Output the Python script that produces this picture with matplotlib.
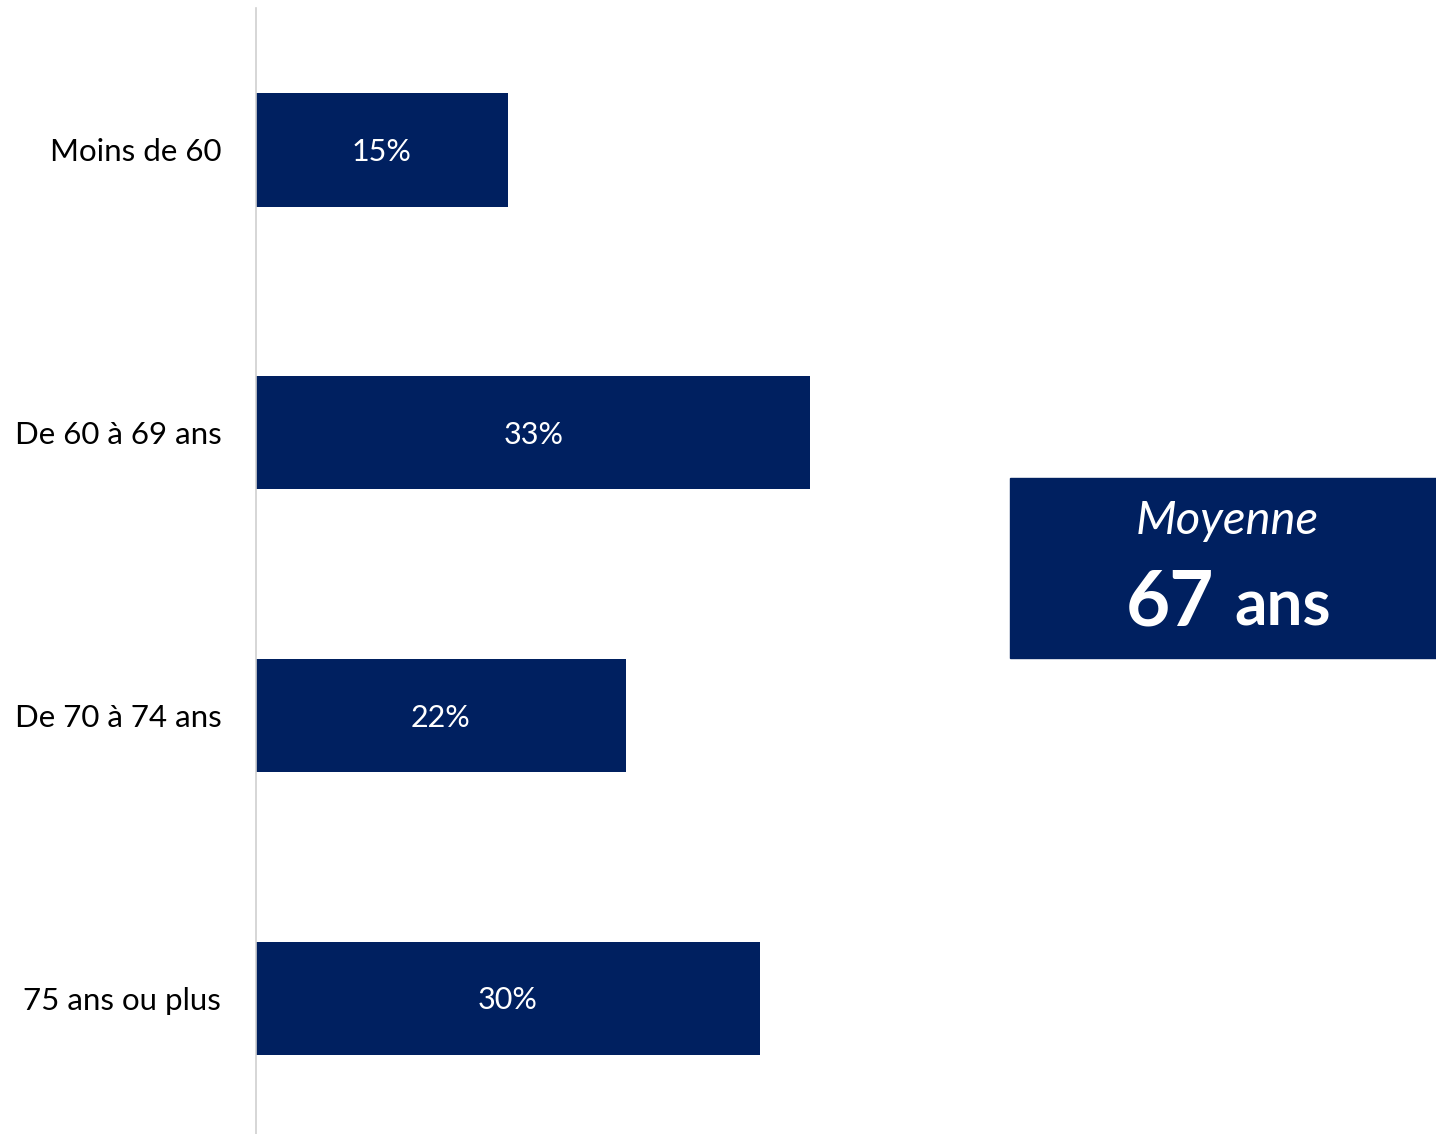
import matplotlib.pyplot as plt
from matplotlib.patches import Rectangle

categories = ['Moins de 60', 'De 60 à 69 ans', 'De 70 à 74 ans', '75 ans ou plus']
values = [15, 33, 22, 30]
moyenne = 67

navy = '#002060'
plt.rcParams['font.family'] = ['Lato', 'DejaVu Sans']

fig = plt.figure(figsize=(14.36, 11.34), dpi=100)
ax = fig.add_axes([256 / 1436, 0, 1 - 256 / 1436, 1 - 8 / 1134])

ypos = list(range(len(categories)))
bars = ax.barh(ypos, values, height=0.4, color=navy)
for b, v in zip(bars, values):
    ax.annotate(f'{v}%', (v / 2, b.get_y() + b.get_height() / 2),
                xytext=(0, -8), textcoords='offset points', color='white',
                ha='center', va='baseline', fontsize=22)

ax.set_xlim(0, (1436 - 256) / 16.8)
ax.set_ylim(3.48, -0.502)
ax.set_yticks(ypos)
ax.set_yticklabels(categories, fontsize=22.5)
ax.tick_params(axis='y', length=0, pad=25)
ax.set_xticks([])
for s in ['top', 'right', 'bottom']:
    ax.spines[s].set_visible(False)
ax.spines['left'].set_color('#d0d0d0')
ax.spines['left'].set_linewidth(1.2)

# encadré moyenne
fig.patches.append(Rectangle((1010 / 1436, 1 - 658 / 1134), 426 / 1436, 180 / 1134,
                             transform=fig.transFigure, color=navy, zorder=0))
fig.text(1227 / 1436, 1 - 534 / 1134, 'Moyenne', color='white', style='italic',
         fontsize=34, ha='center', va='baseline')
fig.text(1214 / 1436, 1 - 625 / 1134, f'{moyenne}', color='white', fontweight='bold',
         fontsize=55, ha='right', va='baseline')
fig.text(1234 / 1436, 1 - 625 / 1134, 'ans', color='white', fontweight='bold',
         fontsize=46, ha='left', va='baseline')

fig.savefig('out.png', dpi=100)
